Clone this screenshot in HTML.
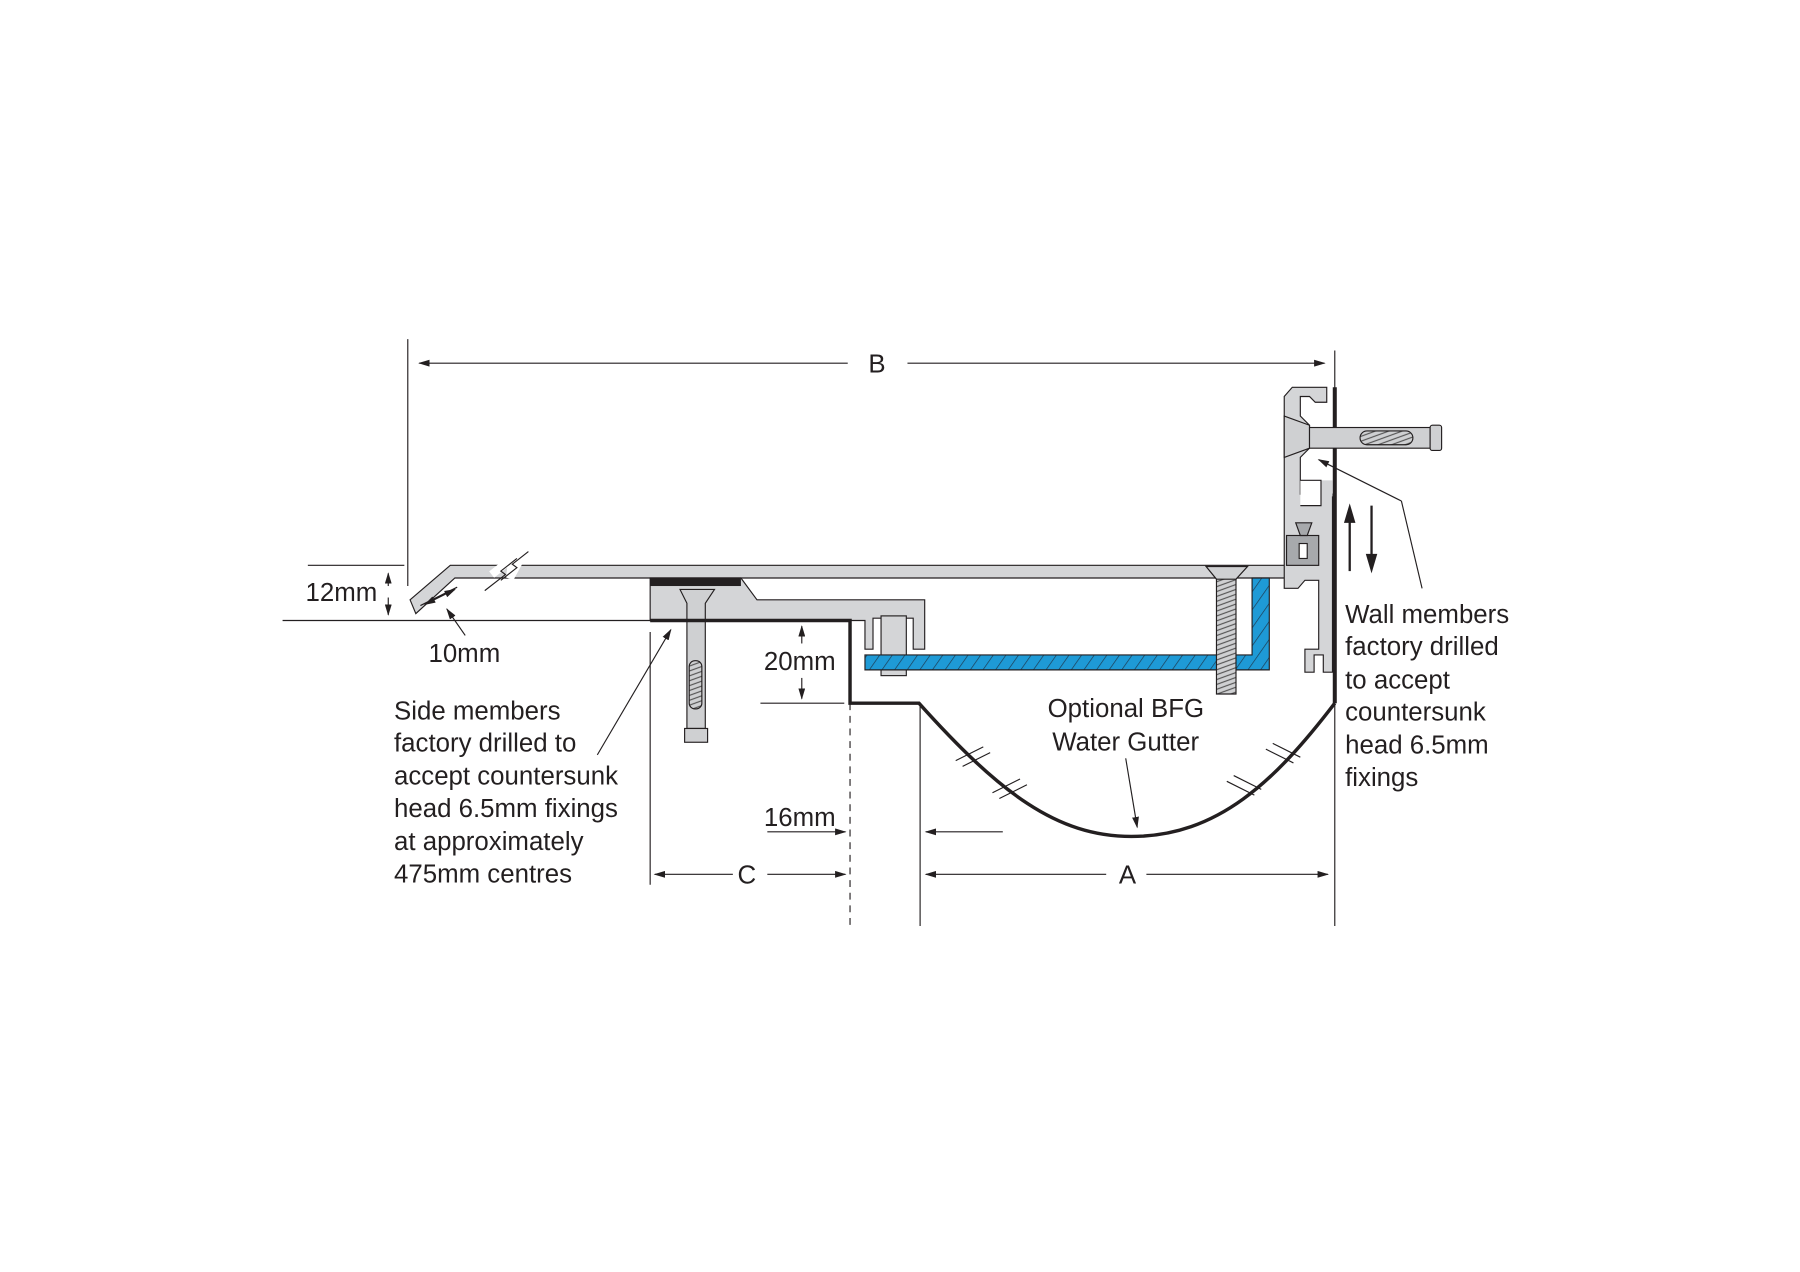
<!DOCTYPE html>
<html><head><meta charset="utf-8"><style>
html,body{margin:0;padding:0;background:#fff}
svg{display:block}
text{font-family:"Liberation Sans",sans-serif;fill:#231f20}
</style></head><body>
<svg width="1800" height="1272" viewBox="0 0 1567 1107" xmlns="http://www.w3.org/2000/svg">
<defs>
<marker id="ar" markerWidth="10" markerHeight="6" refX="9" refY="3" orient="auto" markerUnits="userSpaceOnUse"><path d="M0,0 L10,3 L0,6 z" fill="#231f20"/></marker>
<pattern id="hatch" width="9" height="9" patternUnits="userSpaceOnUse" patternTransform="rotate(35)"><rect width="9" height="9" fill="#1e9ad6"/><line x1="0" y1="0" x2="0" y2="9" stroke="#1d3b52" stroke-width="1.2"/></pattern>
<pattern id="thread" width="6" height="4" patternUnits="userSpaceOnUse" patternTransform="rotate(-20)"><rect width="6" height="4" fill="#cfd0d2"/><line x1="0" y1="2" x2="6" y2="2" stroke="#555" stroke-width="1"/></pattern>
</defs>
<g stroke="#231f20" fill="none" stroke-width="1">
<line x1="355" y1="295" x2="355" y2="510"/>
<line x1="738" y1="316" x2="365" y2="316" marker-end="url(#ar)"/>
<line x1="790" y1="316" x2="1153" y2="316" marker-end="url(#ar)"/>
<line x1="1162" y1="305" x2="1162" y2="806"/>
<line x1="1162" y1="337" x2="1162" y2="612" stroke-width="3.5"/>
<line x1="268" y1="492" x2="352" y2="492"/>
<line x1="246" y1="540" x2="566" y2="540"/>
<line x1="338" y1="510" x2="338" y2="499" marker-end="url(#ar)"/>
<line x1="338" y1="520" x2="338" y2="535" marker-end="url(#ar)"/>
</g>
<path d="M357,522 L392,492 L1150,492 L1150,503 L396,503 L362,534 Z" fill="#d4d5d7" stroke="#231f20" stroke-width="1"/>
<path d="M428,500 L446,486 L444,503 L456,481" stroke="#fff" stroke-width="7" fill="none"/>
<path d="M422,514 L440,500 L436,497 L450,486" stroke="#231f20" fill="none"/>
<path d="M436,505 L450,494 L446,491 L460,480" stroke="#231f20" fill="none"/>
<g stroke="#231f20" fill="none">
<line x1="366" y1="527" x2="398" y2="511"/>
<line x1="370" y1="526" x2="396" y2="513" marker-end="url(#ar)"/>
<line x1="394" y1="513" x2="370" y2="526" marker-end="url(#ar)"/>
<line x1="405" y1="553" x2="389" y2="530" marker-end="url(#ar)"/>
</g>
<path d="M566,503 L645,503 L659,522 L805,522 L805,565 L795,565 L795,538 L760,538 L760,565 L753,565 L753,540 L566,540 Z" fill="#d4d5d7" stroke="#231f20"/>
<rect x="566" y="503" width="79" height="7" fill="#231f20"/>
<rect x="767" y="536" width="22" height="52" fill="#d4d5d7" stroke="#231f20"/>
<path d="M592,513 L622,513 L614,525 L614,634 L598,634 L598,525 Z" fill="#cfd0d2" stroke="#231f20"/>
<rect x="596" y="634" width="20" height="12" fill="#cfd0d2" stroke="#231f20"/>
<rect x="600" y="575" width="11" height="42" rx="5" fill="url(#thread)" stroke="#231f20"/>
<path d="M753,570 L1090,570 L1090,503 L1105,503 L1105,583 L753,583 Z" fill="url(#hatch)" stroke="#231f20"/>
<path d="M1050,493 L1086,493 L1076,504 L1076,604 L1059,604 L1059,504 Z" fill="url(#thread)" stroke="#231f20"/>
<path d="M1050,493 L1086,493 L1076,504 L1059,504 Z" fill="#cfd0d2" stroke="#231f20"/>
<path d="M566,540 L740,540 L740,612 L800,612 C870,690 920,728 985,728 C1060,728 1110,680 1162,612" fill="none" stroke="#231f20" stroke-width="3"/>
<line x1="740" y1="612" x2="740" y2="806" stroke="#231f20" stroke-dasharray="6,5"/>
<line x1="801" y1="612" x2="801" y2="806" stroke="#231f20"/>
<line x1="566" y1="550" x2="566" y2="770" stroke="#231f20"/>
<line x1="662" y1="612" x2="735" y2="612" stroke="#231f20"/>
<g stroke="#231f20" fill="none">
<line x1="832" y1="662" x2="856" y2="650"/><line x1="838" y1="667" x2="862" y2="655"/>
<line x1="864" y1="690" x2="888" y2="678"/><line x1="870" y1="695" x2="894" y2="683"/>
<line x1="1068" y1="680" x2="1092" y2="692"/><line x1="1074" y1="675" x2="1098" y2="687"/>
<line x1="1102" y1="652" x2="1126" y2="664"/><line x1="1108" y1="647" x2="1132" y2="659"/>
<line x1="698" y1="560" x2="698" y2="545" marker-end="url(#ar)"/>
<line x1="698" y1="590" x2="698" y2="608" marker-end="url(#ar)"/>
<line x1="668" y1="724" x2="736" y2="724" marker-end="url(#ar)"/>
<line x1="873" y1="724" x2="806" y2="724" marker-end="url(#ar)"/>
<line x1="638" y1="761" x2="570" y2="761" marker-end="url(#ar)"/>
<line x1="668" y1="761" x2="736" y2="761" marker-end="url(#ar)"/>
<line x1="963" y1="761" x2="806" y2="761" marker-end="url(#ar)"/>
<line x1="998" y1="761" x2="1156" y2="761" marker-end="url(#ar)"/>
<line x1="520" y1="657" x2="584" y2="548" marker-end="url(#ar)"/>
<line x1="980" y1="660" x2="990" y2="720" marker-end="url(#ar)"/>
<line x1="1238" y1="512" x2="1220" y2="436"/>
<line x1="1220" y1="436" x2="1148" y2="400" marker-end="url(#ar)"/>
</g>
<line x1="1175" y1="497" x2="1175" y2="450" stroke="#231f20" stroke-width="2"/>
<path d="M1170,455 L1175,438 L1180,455 Z" fill="#231f20"/>
<line x1="1194" y1="440" x2="1194" y2="485" stroke="#231f20" stroke-width="2"/>
<path d="M1189,482 L1194,499 L1199,482 Z" fill="#231f20"/>
<path d="M1125,337 L1155,337 L1155,350 L1145,350 L1140,345 L1132,345 L1132,362 L1140,370 L1140,390 L1132,398 L1132,430 L1160,430 L1160,585 L1152,585 L1152,570 L1144,570 L1144,585 L1136,585 L1136,565 L1148,565 L1148,505 L1136,505 L1130,512 L1118,512 L1118,345 Z" fill="#d4d5d7" stroke="#231f20"/>
<path d="M1135,418 L1160,418 L1160,432 L1135,432 Z" fill="#d4d5d7" stroke="none"/>
<path d="M1132,418 L1150,418 L1150,440 L1132,440" fill="#fff" stroke="#231f20"/>
<rect x="1120" y="466" width="28" height="26" fill="#a7a9ac" stroke="#231f20"/>
<path d="M1128,455 L1142,455 L1138,466 L1132,466 Z" fill="#a7a9ac" stroke="#231f20"/>
<rect x="1131" y="473" width="7" height="13" fill="#fff" stroke="#231f20"/>
<path d="M1118,362 L1140,370 L1140,390 L1118,398 Z" fill="#cfd0d2" stroke="#231f20"/>
<rect x="1140" y="372" width="105" height="18" fill="#cfd0d2" stroke="#231f20"/>
<rect x="1245" y="370" width="10" height="22" rx="2" fill="#cfd0d2" stroke="#231f20"/>
<rect x="1184" y="375" width="46" height="12" rx="6" fill="url(#thread)" stroke="#231f20"/>
<g font-size="22.5">
<text x="756" y="324">B</text>
<text x="266" y="523">12mm</text>
<text x="373" y="576">10mm</text>
<text x="665" y="583">20mm</text>
<text x="665" y="719">16mm</text>
<text x="642" y="769">C</text>
<text x="974" y="769">A</text>
<text x="912" y="624">Optional BFG</text>
<text x="916" y="653">Water Gutter</text>
<text x="343" y="626">Side members</text>
<text x="343" y="654">factory drilled to</text>
<text x="343" y="683">accept countersunk</text>
<text x="343" y="711">head 6.5mm fixings</text>
<text x="343" y="740">at approximately</text>
<text x="343" y="768">475mm centres</text>
<text x="1171" y="542">Wall members</text>
<text x="1171" y="570">factory drilled</text>
<text x="1171" y="599">to accept</text>
<text x="1171" y="627">countersunk</text>
<text x="1171" y="656">head 6.5mm</text>
<text x="1171" y="684">fixings</text>
</g>
</svg>
</body></html>
